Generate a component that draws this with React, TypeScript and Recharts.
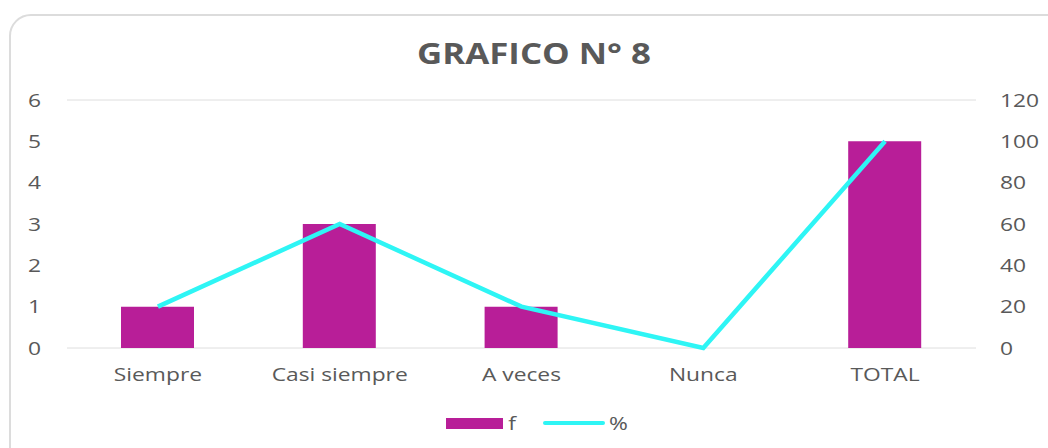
import React from 'react';
import { ComposedChart, Bar, Line, XAxis, YAxis, CartesianGrid, Legend } from 'recharts';

const categorias = ['Siempre', 'Casi siempre', 'A veces', 'Nunca', 'TOTAL'];
const frecuencia = [1, 3, 1, 0, 5];
const porcentaje = [20, 60, 20, 0, 100];
const ticksF = [0, 1, 2, 3, 4, 5, 6];
const ticksP = [0, 20, 40, 60, 80, 100, 120];

const data = categorias.map((c, i) => ({ categoria: c, f: frecuencia[i], p: porcentaje[i] }));

const FONT = '"Open Sans", sans-serif';
const TEXT = '#595959';
const BAR = '#B81E98';
const LINE = '#2EF5F5';
const STRETCH = 1.2;

// Excel-looking text is wider than Open Sans, so stretch it a little
function Tick(props: any) {
  const { x, y, payload, textAnchor, vertical } = props;
  return (
    <text
      transform={`translate(${x},${y}) scale(${STRETCH},1)`}
      textAnchor={textAnchor}
      dy={vertical ? '0.355em' : '0.71em'}
      fill={TEXT}
      fontSize={19}
      fontFamily={FONT}
    >
      {payload.value}
    </text>
  );
}

function renderLegend() {
  return (
    <div style={{ position: 'relative', height: 28, fontFamily: FONT, fontSize: 19, color: TEXT }}>
      <span style={{ position: 'absolute', left: 446, top: 9, width: 57, height: 11, background: BAR }} />
      <span style={{ position: 'absolute', left: 509, top: 0, lineHeight: '28px', transform: `scaleX(${STRETCH})` }}>f</span>
      <span style={{ position: 'absolute', left: 543, top: 12, width: 62, height: 4, borderRadius: 2, background: LINE }} />
      <span style={{ position: 'absolute', left: 609, top: 0, lineHeight: '28px', transform: `scaleX(${STRETCH})`, transformOrigin: 'left' }}>%</span>
    </div>
  );
}

export default function App() {
  return (
    <div style={{ position: 'fixed', left: 0, top: 0, width: 1048, height: 448, overflow: 'hidden', background: '#fff' }}>
      <div style={{ position: 'absolute', left: 9, top: 14, width: 1100, height: 500, border: '2px solid #DCDCDC', borderRadius: 22 }} />
      <div style={{ position: 'absolute', left: 0, top: 31, width: 1068, textAlign: 'center', fontFamily: FONT, fontWeight: 700, fontSize: 29, color: TEXT, lineHeight: '44px', transform: `scaleX(${STRETCH})`, transformOrigin: '534px 0' }}>
        GRAFICO N° 8
      </div>
      <div style={{ position: 'absolute', left: 0, top: 0 }}>
        <ComposedChart width={1048} height={448} data={data} margin={{ top: 100, right: 0, bottom: 42, left: 0 }} barCategoryGap="20%">
          <CartesianGrid vertical={false} stroke="#DEDEDE" strokeWidth={1} />
          <XAxis dataKey="categoria" axisLine={false} tickLine={false} tickSize={0} tickMargin={20} height={30}
            tick={<Tick />} />
          <YAxis yAxisId="f" domain={[0, 6]} ticks={ticksF} width={67} axisLine={false} tickLine={false} tickSize={0} tickMargin={26}
            tick={<Tick vertical />} />
          <YAxis yAxisId="p" orientation="right" domain={[0, 120]} ticks={ticksP} width={72} axisLine={false} tickLine={false} tickSize={0} tickMargin={24}
            tick={<Tick vertical />} />
          <Bar yAxisId="f" dataKey="f" name="f" fill={BAR} barSize={73} isAnimationActive={false} />
          <Line yAxisId="p" dataKey="p" name="%" type="linear" stroke={LINE} strokeWidth={4.5} dot={false} activeDot={false} isAnimationActive={false} />
          <Legend content={renderLegend} wrapperStyle={{ position: 'absolute', top: 409, left: 0, width: 1048, height: 28 }} />
        </ComposedChart>
      </div>
    </div>
  );
}
